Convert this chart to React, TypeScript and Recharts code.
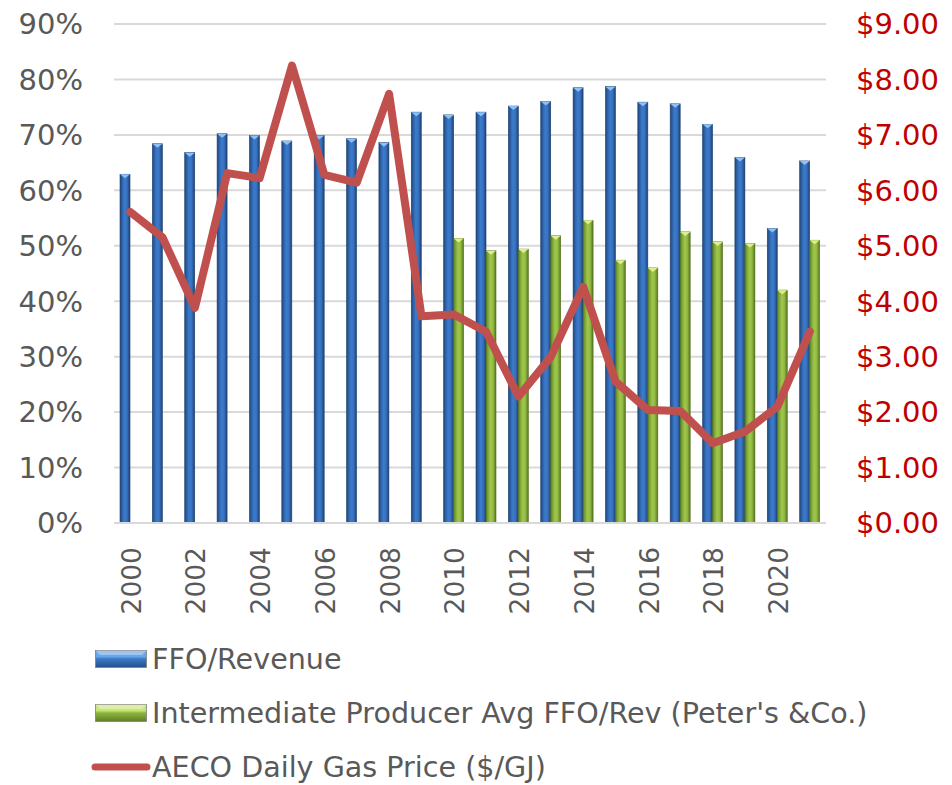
import React from "react";
import {
  ComposedChart,
  Bar,
  Line,
  XAxis,
  YAxis,
  CartesianGrid,
} from "recharts";

const years = [
  "2000", "2001", "2002", "2003", "2004", "2005", "2006", "2007", "2008", "2009", "2010",
  "2011", "2012", "2013", "2014", "2015", "2016", "2017", "2018", "2019", "2020", "2021",
];
const ffoRevenue = [
  62.9, 68.4, 66.8, 70.2, 69.9, 68.9, 69.9, 69.3, 68.6, 74.1, 73.6,
  74.1, 75.2, 76.0, 78.5, 78.7, 75.9, 75.6, 71.9, 65.9, 53.1, 65.3,
];
const peerAvg: (number | null)[] = [
  null, null, null, null, null, null, null, null, null, null, 51.3,
  49.1, 49.4, 51.8, 54.6, 47.4, 46.0, 52.5, 50.7, 50.4, 42.0, 51.0,
];
const gasPrice = [
  5.61, 5.15, 3.88, 6.31, 6.22, 8.25, 6.28, 6.14, 7.74, 3.73, 3.76,
  3.45, 2.28, 3.0, 4.26, 2.55, 2.04, 2.02, 1.44, 1.65, 2.1, 3.45,
];
const pctTicks = [0, 10, 20, 30, 40, 50, 60, 70, 80, 90];
const priceTicks = [0, 1, 2, 3, 4, 5, 6, 7, 8, 9];
const seriesNames = [
  "FFO/Revenue",
  "Intermediate Producer Avg FFO/Rev (Peter's &Co.)",
  "AECO Daily Gas Price ($/GJ)",
];

const data = years.map((year, i) => ({
  year,
  ffo: ffoRevenue[i],
  peer: peerAvg[i],
  gas: gasPrice[i],
}));

const FONT = "'DejaVu Sans', Verdana, sans-serif";
const GREY = "#595959";

const makeBar = (grad: string, bevel: string, edge: string) => (props: any) => {
  const { x, y, width, height } = props;
  if (height == null || height <= 0 || width <= 0) return <g />;
  const b = Math.min(4, height);
  return (
    <g>
      <rect x={x} y={y} width={width} height={height} fill={`url(#${grad})`} stroke={edge} strokeWidth={0.6} />
      <polygon
        points={`${x},${y} ${x + width},${y} ${x + width / 2},${y + b}`}
        fill={bevel}
      />
    </g>
  );
};

const BlueBar = makeBar("gBlue", "#8ec0f5", "#1c3f6c");
const GreenBar = makeBar("gGreen", "#dcf08e", "#55711d");

const XTick = (props: any) => {
  const { x, y, payload } = props;
  const tx = x + 1;
  return (
    <text
      x={tx}
      y={y}
      transform={`rotate(-90 ${tx} ${y})`}
      textAnchor="end"
      dy="0.36em"
      fill={GREY}
      fontSize={26.5}
      fontFamily={FONT}
    >
      {payload.value}
    </text>
  );
};

const BarIcon = ({ top, mid, bottom, id }: { top: string; mid: string; bottom: string; id: string }) => (
  <svg width={52} height={18} style={{ display: "block" }}>
    <defs>
      <linearGradient id={id} x1="0" y1="0" x2="0" y2="1">
        <stop offset="0%" stopColor={top} />
        <stop offset="35%" stopColor={top} />
        <stop offset="50%" stopColor={mid} />
        <stop offset="100%" stopColor={bottom} />
      </linearGradient>
    </defs>
    <rect x={0.5} y={0.5} width={51} height={17} fill={`url(#${id})`} stroke="#7f7f7f" strokeWidth={0.8} />
    <polygon points="0.5,0.5 51.5,0.5 47,5 5,5" fill="rgba(255,255,255,0.35)" />
  </svg>
);

const LineIcon = () => (
  <svg width={60} height={10} style={{ display: "block" }}>
    <line x1={4} y1={5} x2={56} y2={5} stroke="#C0504D" strokeWidth={7} strokeLinecap="round" />
  </svg>
);

const ChartLegend = () => {
  const icons = [
    <div style={{ marginLeft: 95, marginRight: 5 }}>
      <BarIcon id="lgBlue" top="#6aa6ec" mid="#3a78c6" bottom="#244f8c" />
    </div>,
    <div style={{ marginLeft: 95, marginRight: 5 }}>
      <BarIcon id="lgGreen" top="#c9e674" mid="#8cb43f" bottom="#5f7f24" />
    </div>,
    <div style={{ marginLeft: 91, marginRight: 1 }}>
      <LineIcon />
    </div>,
  ];
  return (
    <div style={{ position: "absolute", left: 0, top: 632, height: 153, width: 952 }}>
      {seriesNames.map((name, i) => (
        <div
          key={name}
          style={{
            position: "absolute",
            top: i * 54,
            left: 0,
            height: 54,
            display: "flex",
            alignItems: "center",
            whiteSpace: "nowrap",
            fontFamily: FONT,
            fontSize: 28.6,
            color: GREY,
            lineHeight: "54px",
          }}
        >
          {icons[i]}
          <span>{name}</span>
        </div>
      ))}
    </div>
  );
};

export default function App() {
  return (
    <div
      style={{
        position: "absolute",
        left: 0,
        top: 0,
        width: 952,
        height: 785,
        overflow: "hidden",
        background: "#ffffff",
      }}
    >
      <ComposedChart
        width={952}
        height={632}
        data={data}
        margin={{ top: 24, right: 0, bottom: 0, left: 0 }}
        barGap={0}
      >
        <defs>
          <linearGradient id="gBlue" x1="0" y1="0" x2="1" y2="0">
            <stop offset="0%" stopColor="#1d4679" />
            <stop offset="18%" stopColor="#2c5fa3" />
            <stop offset="45%" stopColor="#3b7bcc" />
            <stop offset="70%" stopColor="#3872bf" />
            <stop offset="100%" stopColor="#1c4174" />
          </linearGradient>
          <linearGradient id="gGreen" x1="0" y1="0" x2="1" y2="0">
            <stop offset="0%" stopColor="#5a7a20" />
            <stop offset="18%" stopColor="#7ba335" />
            <stop offset="45%" stopColor="#9ec84c" />
            <stop offset="70%" stopColor="#93bb44" />
            <stop offset="100%" stopColor="#55731d" />
          </linearGradient>
        </defs>
        <CartesianGrid yAxisId="left" vertical={false} stroke="#d9d9d9" strokeWidth={2} />
        <XAxis
          dataKey="year"
          interval={1}
          height={109}
          tickSize={0}
          tickMargin={24}
          tickLine={false}
          axisLine={{ stroke: "#d9d9d9", strokeWidth: 2 }}
          tick={<XTick />}
        />
        <YAxis
          yAxisId="left"
          orientation="left"
          width={114}
          domain={[0, 90]}
          ticks={pctTicks}
          interval={0}
          tickFormatter={(v: number) => `${v}%`}
          tickSize={0}
          tickMargin={31}
          tickLine={false}
          axisLine={false}
          tick={{ fill: GREY, fontSize: 29, fontFamily: FONT }}
        />
        <YAxis
          yAxisId="right"
          orientation="right"
          width={126}
          domain={[0, 9]}
          ticks={priceTicks}
          interval={0}
          tickFormatter={(v: number) => `$${v.toFixed(2)}`}
          tickSize={0}
          tickMargin={30}
          tickLine={false}
          axisLine={false}
          tick={{ fill: "#C00000", fontSize: 29, fontFamily: FONT }}
        />
        <Bar
          yAxisId="left"
          dataKey="ffo"
          name={seriesNames[0]}
          barSize={10}
          fill="#3a78c6"
          shape={BlueBar}
          isAnimationActive={false}
        />
        <Bar
          yAxisId="left"
          dataKey="peer"
          name={seriesNames[1]}
          barSize={10}
          fill="#9bbb59"
          shape={GreenBar}
          isAnimationActive={false}
        />
        <Line
          yAxisId="right"
          dataKey="gas"
          name={seriesNames[2]}
          type="linear"
          stroke="#C0504D"
          strokeWidth={8}
          strokeLinecap="round"
          strokeLinejoin="round"
          dot={false}
          activeDot={false}
          isAnimationActive={false}
        />
      </ComposedChart>
      <ChartLegend />
    </div>
  );
}
